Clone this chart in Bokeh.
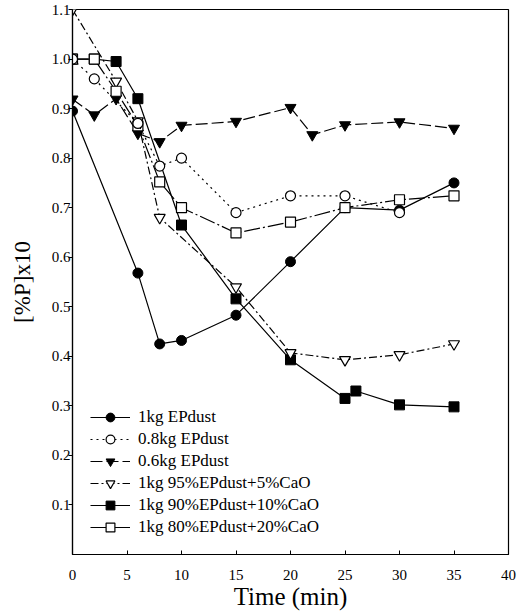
from bokeh.plotting import figure
from bokeh.models import Range1d, Legend, LegendItem, FixedTicker, NumeralTickFormatter
from bokeh.embed import file_html
from bokeh.resources import INLINE

# ---- data ----
x_ticks = [0, 5, 10, 15, 20, 25, 30, 35, 40]
y_ticks = [0.1, 0.2, 0.3, 0.4, 0.5, 0.6, 0.7, 0.8, 0.9, 1.0, 1.1]

time_1kg = [0, 6, 8, 10, 15, 20, 25, 30, 35]
p_1kg = [0.895, 0.568, 0.425, 0.432, 0.483, 0.591, 0.700, 0.695, 0.750]

time_08kg = [0, 2, 6, 8, 10, 15, 20, 25, 30]
p_08kg = [1.00, 0.960, 0.870, 0.784, 0.800, 0.690, 0.724, 0.724, 0.690]

time_06kg = [0, 2, 4, 6, 8, 10, 15, 20, 22, 25, 30, 35]
p_06kg = [0.919, 0.887, 0.920, 0.850, 0.833, 0.866, 0.874, 0.902, 0.847, 0.867, 0.873, 0.860]

time_95 = [0, 4, 6, 8, 15, 20, 25, 30, 35]
p_95 = [1.10, 0.955, 0.875, 0.680, 0.540, 0.407, 0.393, 0.403, 0.425]

time_90 = [0, 2, 4, 6, 10, 15, 20, 25, 26, 30, 35]
p_90 = [1.00, 1.00, 0.995, 0.920, 0.665, 0.516, 0.393, 0.315, 0.330, 0.302, 0.298]

time_80 = [0, 2, 4, 6, 8, 10, 15, 20, 25, 30, 35]
p_80 = [1.00, 1.00, 0.935, 0.865, 0.752, 0.700, 0.649, 0.671, 0.700, 0.716, 0.724]

labels = ["1kg EPdust", "0.8kg EPdust", "0.6kg EPdust",
          "1kg 95%EPdust+5%CaO", "1kg 90%EPdust+10%CaO", "1kg 80%EPdust+20%CaO"]

FONT = "Liberation Serif"

p = figure(width=525, height=612, output_backend="svg", toolbar_location=None,
           x_range=Range1d(0, 40), y_range=Range1d(0, 1.1),
           min_border_left=72, min_border_right=17, min_border_top=9, min_border_bottom=57)
p.xgrid.visible = False
p.ygrid.visible = False
p.outline_line_color = "black"
p.outline_line_width = 1.2
p.background_fill_color = "white"

p.xaxis.ticker = FixedTicker(ticks=x_ticks)
p.yaxis.ticker = FixedTicker(ticks=y_ticks)
p.yaxis.formatter = NumeralTickFormatter(format="0.0")
for ax in (p.xaxis[0], p.yaxis[0]):
    ax.axis_line_color = "black"
    ax.axis_line_width = 1.2
    ax.major_tick_line_color = "black"
    ax.minor_tick_line_color = None
    ax.major_label_text_font = FONT
    ax.major_label_text_font_size = "15px"
    ax.major_label_text_color = "black"
    ax.axis_label_text_font = FONT
    ax.axis_label_text_font_style = "normal"
    ax.axis_label_text_color = "black"

p.xaxis.major_tick_in = 4
p.xaxis.major_tick_out = 0
p.xaxis.major_label_standoff = 15
p.xaxis.axis_label = "Time (min)"
p.xaxis.axis_label_standoff = 0
p.xaxis.axis_label_text_font_size = "25px"

p.yaxis.major_tick_in = 0
p.yaxis.major_tick_out = 4
p.yaxis.major_label_standoff = -2
p.yaxis.axis_label = "[%P]x10"
p.yaxis.axis_label_standoff = 14
p.yaxis.axis_label_text_font_size = "23px"

LW = 1.2
# draw order: 90% before 80% so open squares cover filled ones at t=0,2
l90 = p.line(time_90, p_90, line_color="black", line_width=LW)
s90 = p.scatter(time_90, p_90, marker="square", size=10, fill_color="black", line_color="black")

l1 = p.line(time_1kg, p_1kg, line_color="black", line_width=LW)
s1 = p.scatter(time_1kg, p_1kg, marker="circle", size=10, fill_color="black", line_color="black")

l06 = p.line(time_06kg, p_06kg, line_color="black", line_width=LW, line_dash="12 4")
s06 = p.scatter(time_06kg, p_06kg, marker="inverted_triangle", size=11, fill_color="black", line_color="black")

l95 = p.line(time_95, p_95, line_color="black", line_width=LW, line_dash="8 3 2 3")
s95 = p.scatter(time_95, p_95, marker="inverted_triangle", size=11, fill_color="white", line_color="black", line_width=LW)

l80 = p.line(time_80, p_80, line_color="black", line_width=LW, line_dash="16 3 2 3")
s80 = p.scatter(time_80, p_80, marker="square", size=10, fill_color="white", line_color="black", line_width=LW)

l08 = p.line(time_08kg, p_08kg, line_color="black", line_width=LW, line_dash="2 4")
s08 = p.scatter(time_08kg, p_08kg, marker="circle", size=10, fill_color="white", line_color="black", line_width=LW)

items = [
    LegendItem(label=labels[0], renderers=[l1, s1]),
    LegendItem(label=labels[1], renderers=[l08, s08]),
    LegendItem(label=labels[2], renderers=[l06, s06]),
    LegendItem(label=labels[3], renderers=[l95, s95]),
    LegendItem(label=labels[4], renderers=[l90, s90]),
    LegendItem(label=labels[5], renderers=[l80, s80]),
]
legend = Legend(items=items, location=(18, 16))
legend.border_line_color = None
legend.background_fill_alpha = 0
legend.padding = 0
legend.margin = 0
legend.spacing = 0
legend.glyph_width = 40
legend.glyph_height = 22
legend.label_height = 22
legend.label_standoff = 8
legend.label_text_font = FONT
legend.label_text_font_size = "17px"
legend.label_text_color = "black"
p.add_layout(legend)

open("out.html", "w").write(file_html(p, INLINE))
